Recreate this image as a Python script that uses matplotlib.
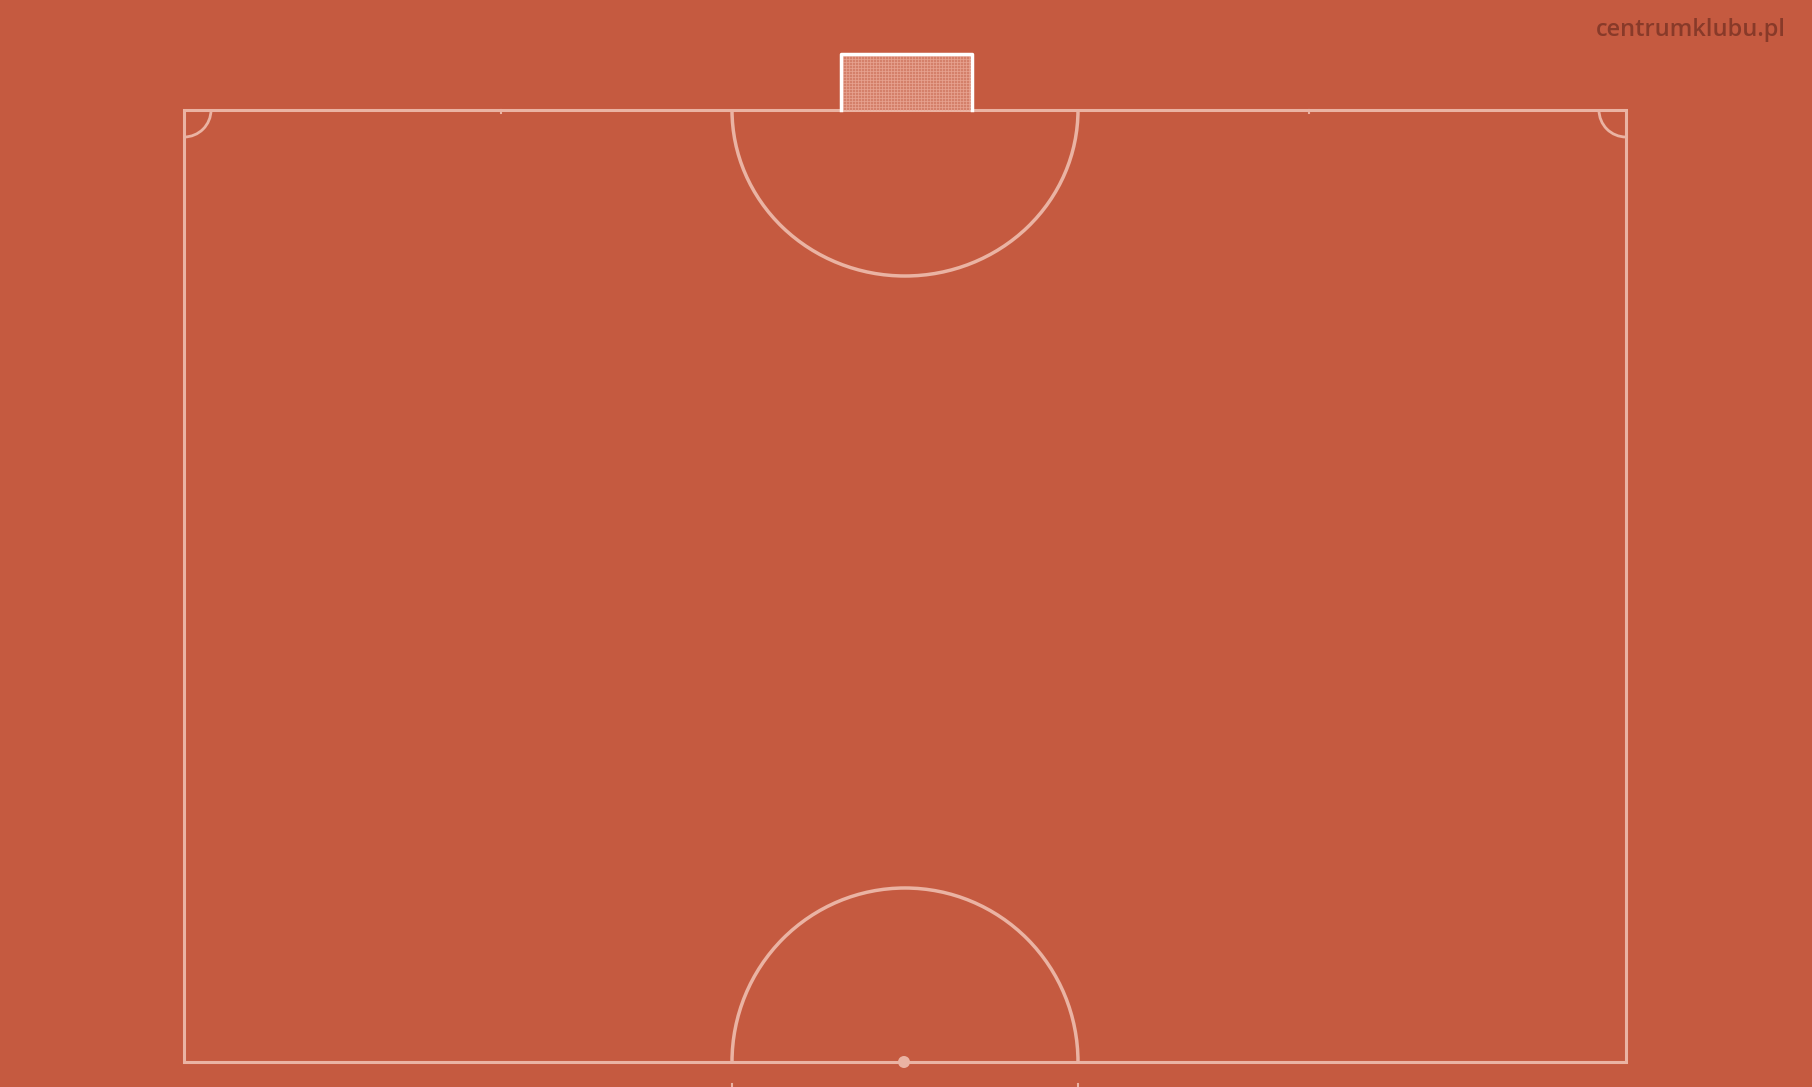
import matplotlib
matplotlib.use("Agg")
import matplotlib.pyplot as plt
from matplotlib.patches import Rectangle, Arc, Circle
import numpy as np

# pitch geometry (pixels of the output image)
pitch_x = [184, 1626]
pitch_y = [110, 1062]
goal_x = [841, 972]
goal_y = [54, 110]
top_arc_radius = [173, 166]     # horizontal / vertical radius
bottom_arc_radius = [173, 174]
corner_radius = 27
centre_spot = [904, 1062]
top_ticks_x = [501, 1309]
watermark = "centrumklubu.pl"

bg = "#c55a40"
line = "#eab3a3"

fig = plt.figure(figsize=(18.12, 10.87), dpi=100, facecolor=bg)
ax = fig.add_axes([0, 0, 1, 1])
ax.set_xlim(0, 1812)
ax.set_ylim(1087, 0)
ax.set_facecolor(bg)
ax.axis('off')

# outline
ax.add_patch(Rectangle((pitch_x[0], pitch_y[0]), pitch_x[1] - pitch_x[0],
                       pitch_y[1] - pitch_y[0], fill=False, ec=line, lw=2.2))

cx = (pitch_x[0] + pitch_x[1]) / 2
# penalty arcs (y axis inverted: top arc opens downward)
ax.add_patch(Arc((cx, pitch_y[0]), 2 * top_arc_radius[0], 2 * top_arc_radius[1],
                 theta1=0, theta2=180, ec=line, lw=2.5))
ax.add_patch(Arc((cx, pitch_y[1]), 2 * bottom_arc_radius[0], 2 * bottom_arc_radius[1],
                 theta1=180, theta2=360, ec=line, lw=2.5))

# corner arcs (top only)
for x, y, t1 in [(pitch_x[0], pitch_y[0], 0), (pitch_x[1], pitch_y[0], 90)]:
    ax.add_patch(Arc((x, y), 2 * corner_radius, 2 * corner_radius,
                     theta1=t1, theta2=t1 + 90, ec=line, lw=2))

ax.add_patch(Circle(centre_spot, 6, fc=line, ec='none'))
for tx in top_ticks_x:
    ax.plot([tx, tx], [pitch_y[0], pitch_y[0] + 3], color=line, lw=1.5)
for tx in [cx - bottom_arc_radius[0], cx + bottom_arc_radius[0]]:
    ax.plot([tx, tx], [1084, 1087], color=line, lw=1.5)

# goal with net
gw, gh = goal_x[1] - goal_x[0], goal_y[1] - goal_y[0]
ax.add_patch(Rectangle((goal_x[0], goal_y[0]), gw, gh, fc="#d4806a", ec='none'))
for xx in np.arange(goal_x[0] + 2, goal_x[1], 3):
    ax.plot([xx, xx], goal_y, color="#eaa795", lw=0.6, alpha=0.8)
for yy in np.arange(goal_y[0] + 2, goal_y[1], 3):
    ax.plot(goal_x, [yy, yy], color="#eaa795", lw=0.6, alpha=0.8)
ax.plot([goal_x[0], goal_x[0], goal_x[1], goal_x[1]],
        [goal_y[1], goal_y[0], goal_y[0], goal_y[1]], color='white', lw=2.5)

ax.text(1786, 30, watermark, ha='right', va='center', fontsize=17,
        fontweight='semibold', family='Open Sans', color="#7e3526", alpha=0.85)

fig.savefig("out.png", dpi=100, facecolor=bg)
